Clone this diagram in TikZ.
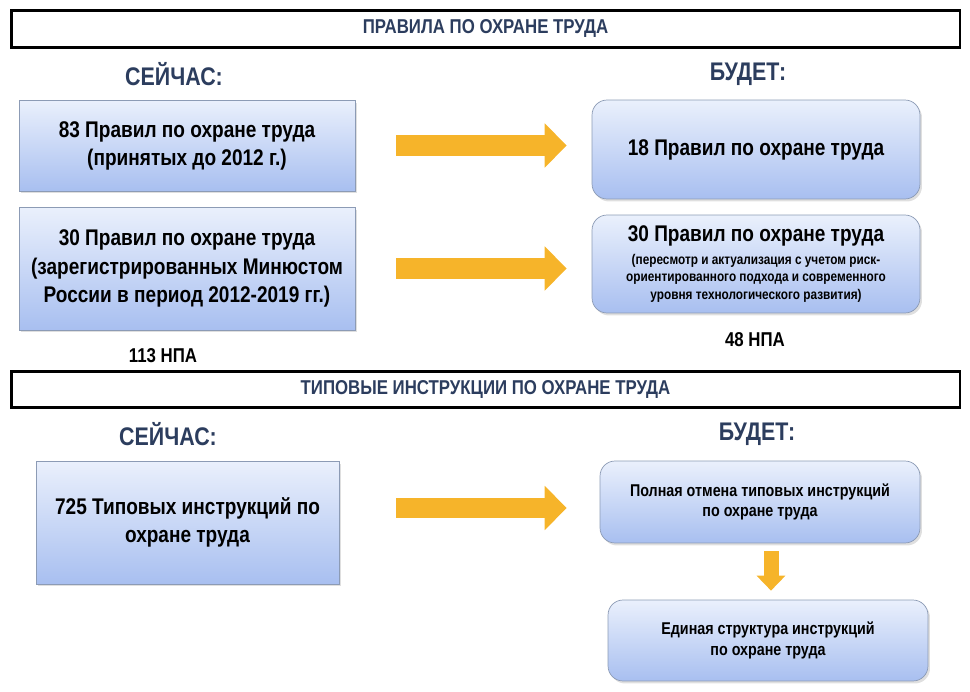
\documentclass[tikz,border=0pt]{standalone}
\usepackage{fontspec}
\setmainfont{Liberation Sans}[FakeStretch=0.84]
\usepackage{tikz}
\usetikzlibrary{positioning, arrows.meta, shadows}

\definecolor{headblue}{HTML}{2C3D5E}
\definecolor{boxtop}{HTML}{EAF0FC}
\definecolor{boxbot}{HTML}{A8BFF0}
\definecolor{boxline}{HTML}{8C9BB5}
\definecolor{arrowyellow}{HTML}{F6B42A}

\begin{document}
\begin{tikzpicture}[x=0.02cm, y=-0.02cm,
        every node/.style={font=\bfseries},
        titlebox/.style={draw=black, line width=1.6pt, minimum width=18.98cm, minimum height=0.73cm, text=headblue, font=\bfseries\fontsize{11.4}{13}\selectfont},
        colhead/.style={text=headblue, font=\bfseries\fontsize{14.5}{16}\selectfont},
        nowbox/.style={draw=boxline, top color=boxtop, bottom color=boxbot, align=center, font=\bfseries\fontsize{12.9}{16}\selectfont, drop shadow={opacity=0.25, shadow xshift=0.04cm, shadow yshift=-0.05cm}},
        willbox/.style={nowbox, rounded corners=0.3cm},
        count/.style={font=\bfseries\fontsize{11.4}{13}\selectfont},
        yarrow/.style={draw=arrowyellow, line width=0.42cm, -{Triangle[length=0.44cm, width=0.86cm]}},
        ydown/.style={draw=arrowyellow, line width=0.3cm, -{Triangle[length=0.3cm, width=0.56cm]}}]

        \useasboundingbox (0,0) rectangle (970,692);

        \node[titlebox] (T1) at (485.5,29) {ПРАВИЛА ПО ОХРАНЕ ТРУДА};
        \node[colhead] (N1) at (174,74) {СЕЙЧАС:};
        \node[colhead] (W1) at (748,74) {БУДЕТ:};

        \node[nowbox, minimum width=6.72cm, minimum height=1.82cm] (A1) at (187,145.5) {83 Правил по охране труда\\(принятых до 2012 г.)};
        \node[nowbox, minimum width=6.72cm, minimum height=2.46cm] (A2) at (187,268.5) {30 Правил по охране труда\\(зарегистрированных Минюстом\\России в период 2012-2019 гг.)};
        \node[willbox, minimum width=6.56cm, minimum height=1.98cm] (B1) at (756,149.5) {18 Правил по охране труда};
        \node[willbox, minimum width=6.56cm, minimum height=1.96cm, font=\bfseries\fontsize{8}{10}\selectfont] (B2) at (756,264) {{\fontsize{12.9}{16}\selectfont 30 Правил по охране труда}\\[3pt](пересмотр и актуализация с учетом риск-\\ориентированного подхода и современного\\уровня технологического развития)};

        \node[count] (S1) at (163,356) {113 НПА};
        \node[count] (S2) at (755,340) {48 НПА};

        \path[yarrow, shorten <=0.82cm, shorten >=0.5cm] (A1.east) -- (A1.east -| B1.west);
        \path[yarrow, shorten <=0.82cm, shorten >=0.5cm] (A2.east) -- (A2.east -| B2.west);

        \node[titlebox] (T2) at (485.5,389.5) {ТИПОВЫЕ ИНСТРУКЦИИ ПО ОХРАНЕ ТРУДА};
        \node[colhead] (N2) at (168,434) {СЕЙЧАС:};
        \node[colhead] (W2) at (757,434) {БУДЕТ:};

        \node[nowbox, minimum width=6.06cm, minimum height=2.46cm] (C1) at (187.5,522.5) {725 Типовых инструкций по\\охране труда};
        \node[willbox, minimum width=6.4cm, minimum height=1.64cm, font=\bfseries\fontsize{9.7}{11.5}\selectfont] (D1) at (760,502) {Полная отмена типовых инструкций\\по охране труда};
        \node[willbox, minimum width=6.4cm, minimum height=1.62cm, font=\bfseries\fontsize{9.7}{11.5}\selectfont] (D2) at (768,640.5) {Единая структура инструкций\\по охране труда};

        \path[yarrow, shorten <=1.14cm, shorten >=0.66cm] ([yshift=-0.12cm]C1.east |- D1.west) -- ([yshift=-0.12cm]D1.west);
        \path[ydown, shorten <=0.16cm, shorten >=0.18cm] ([xshift=0.06cm]D2.north |- D1.south) -- ([xshift=0.06cm]D2.north);

    \end{tikzpicture}
\end{document}
